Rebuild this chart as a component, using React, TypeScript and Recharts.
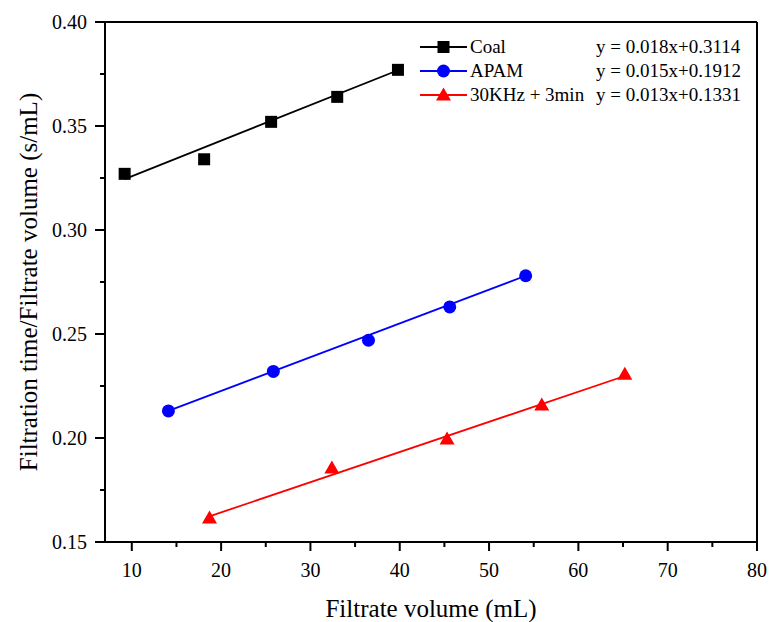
import React from 'react';
import { LineChart, Line, XAxis, YAxis, ReferenceLine, Legend, Label } from 'recharts';

// measured points
const coalX = [9.2, 18.1, 25.6, 33.0, 39.8];
const coalY = [0.327, 0.334, 0.352, 0.364, 0.377];
const apamX = [14.1, 25.85, 36.5, 45.6, 54.1];
const apamY = [0.213, 0.232, 0.247, 0.263, 0.278];
const ultraX = [18.7, 32.4, 45.3, 55.9, 65.2];
const ultraY = [0.1615, 0.1856, 0.1995, 0.2159, 0.2306];

// linear fit end points (as drawn)
const coalFitX = [9.2, 39.8];
const coalFitY = [0.3245, 0.3768];
const apamFitX = [14.1, 54.1];
const apamFitY = [0.213, 0.278];
const ultraFitX = [18.6, 65.2];
const ultraFitY = [0.1622, 0.2298];

const seriesNames = ['Coal', 'APAM', '30KHz + 3min'];
const equations = ['y = 0.018x+0.3114', 'y = 0.015x+0.1912', 'y = 0.013x+0.1331'];
const colors = ['#000000', '#0000ff', '#ff0000'];
const shapes = ['square', 'circle', 'triangle'];

const xTicks = [10, 15, 20, 25, 30, 35, 40, 45, 50, 55, 60, 65, 70, 75, 80];
const yTicks = [0.15, 0.175, 0.2, 0.225, 0.25, 0.275, 0.3, 0.325, 0.35, 0.375, 0.4];

const X_DOMAIN = [7, 80];
const Y_DOMAIN = [0.15, 0.4];
const W = 769;
const H = 622;
const MARGIN = { top: 22, right: 12, left: 0, bottom: 0 };
const Y_AXIS_W = 105;
const X_AXIS_H = 80;

const FONT = 'Liberation Serif, Times New Roman, serif';

const toRows = (xs: number[], ys: number[]) => xs.map((x, i) => ({ x, y: ys[i] }));
const isMajorX = (v: number) => v % 10 === 0;
const isMajorY = (v: number) => Math.round(v * 1000) % 50 === 0;

const Marker = ({ cx, cy, shape, color }: { cx: number; cy: number; shape: string; color: string }) => {
  if (shape === 'square') {
    return <rect x={cx - 6} y={cy - 6} width={12} height={12} fill={color} />;
  }
  if (shape === 'circle') {
    return <circle cx={cx} cy={cy} r={6.5} fill={color} />;
  }
  return <polygon points={`${cx},${cy - 7.5} ${cx - 7.5},${cy + 5.5} ${cx + 7.5},${cy + 5.5}`} fill={color} />;
};

const makeDot = (shape: string, color: string) => (props: any) => (
  <Marker key={`${shape}-${props.index}`} cx={props.cx} cy={props.cy} shape={shape} color={color} />
);

// labels only; tick marks are drawn by TickMarks
const renderXTick = (p: any) =>
  isMajorX(p.payload.value) ? (
    <text key={`xt-${p.payload.value}`} x={p.x} y={p.y + 28} textAnchor="middle" dominantBaseline="central" fontFamily={FONT} fontSize={20} fill="#000" stroke="none">
      {p.payload.value}
    </text>
  ) : (
    <g key={`xt-${p.payload.value}`} />
  );

const renderYTick = (p: any) =>
  isMajorY(p.payload.value) ? (
    <text key={`yt-${p.payload.value}`} x={p.x - 18} y={p.y} textAnchor="end" dominantBaseline="central" fontFamily={FONT} fontSize={20} fill="#000" stroke="none">
      {p.payload.value.toFixed(2)}
    </text>
  ) : (
    <g key={`yt-${p.payload.value}`} />
  );

// outward tick marks, laid over the chart
const TickMarks = () => {
  const left = MARGIN.left + Y_AXIS_W;
  const top = MARGIN.top;
  const pw = W - left - MARGIN.right;
  const ph = H - top - MARGIN.bottom - X_AXIS_H;
  const sx = (v: number) => left + ((v - X_DOMAIN[0]) / (X_DOMAIN[1] - X_DOMAIN[0])) * pw;
  const sy = (v: number) => top + ((Y_DOMAIN[1] - v) / (Y_DOMAIN[1] - Y_DOMAIN[0])) * ph;
  const bottom = top + ph;
  return (
    <svg width={W} height={H} style={{ position: 'absolute', left: 0, top: 0, pointerEvents: 'none', zIndex: 5 }}>
      {xTicks.map((v) => (
        <line key={`xm-${v}`} x1={sx(v)} y1={bottom} x2={sx(v)} y2={bottom + (isMajorX(v) ? 9 : 5)} stroke="#000" strokeWidth={2} />
      ))}
      {yTicks.map((v) => (
        <line key={`ym-${v}`} x1={left} y1={sy(v)} x2={left - (isMajorY(v) ? 10 : 5)} y2={sy(v)} stroke="#000" strokeWidth={2} />
      ))}
    </svg>
  );
};

const LegendBox = () => (
  <div style={{ fontFamily: FONT, fontSize: 19, color: '#000' }}>
    {seriesNames.map((name, i) => (
      <div key={name} style={{ display: 'flex', alignItems: 'center', height: 24, whiteSpace: 'nowrap' }}>
        <svg width={52} height={24} style={{ marginLeft: 3 }}>
          <line x1={2} y1={12} x2={49} y2={12} stroke={colors[i]} strokeWidth={1.8} />
          <Marker cx={25.5} cy={12} shape={shapes[i]} color={colors[i]} />
        </svg>
        <span style={{ display: 'inline-block', width: 126 }}>{name}</span>
        <span>{equations[i]}</span>
      </div>
    ))}
  </div>
);

export default function App() {
  const pointSets = [toRows(coalX, coalY), toRows(apamX, apamY), toRows(ultraX, ultraY)];
  const fitSets = [toRows(coalFitX, coalFitY), toRows(apamFitX, apamFitY), toRows(ultraFitX, ultraFitY)];

  return (
    <div style={{ position: 'absolute', left: 0, top: 0, width: W, height: H, background: '#fff', fontFamily: FONT }}>
      <LineChart width={W} height={H} margin={MARGIN}>
        <XAxis
          dataKey="x"
          type="number"
          domain={X_DOMAIN}
          ticks={xTicks}
          height={X_AXIS_H}
          tickSize={0}
          tickMargin={0}
          tickLine={false}
          tick={renderXTick}
          axisLine={{ stroke: '#000', strokeWidth: 2 }}
          interval={0}
        >
          <Label value="Filtrate volume (mL)" position="insideBottom" offset={5} fontFamily={FONT} fontSize={25} fill="#000" stroke="none" />
        </XAxis>
        <YAxis
          dataKey="y"
          type="number"
          domain={Y_DOMAIN}
          ticks={yTicks}
          width={Y_AXIS_W}
          tickSize={0}
          tickMargin={0}
          tickLine={false}
          tick={renderYTick}
          axisLine={{ stroke: '#000', strokeWidth: 2 }}
          interval={0}
        >
          <Label
            value="Filtration time/Filtrate volume (s/mL)"
            position="insideLeft"
            angle={-90}
            offset={28}
            textAnchor="middle"
            fontFamily={FONT}
            fontSize={25}
            fill="#000"
            stroke="none"
          />
        </YAxis>
        <ReferenceLine y={Y_DOMAIN[1]} stroke="#000" strokeWidth={2} />
        <ReferenceLine x={X_DOMAIN[1]} stroke="#000" strokeWidth={2} />
        {fitSets.map((rows, i) => (
          <Line
            key={`fit-${i}`}
            data={rows}
            dataKey="y"
            type="linear"
            stroke={colors[i]}
            strokeWidth={1.8}
            dot={false}
            activeDot={false}
            legendType="none"
            isAnimationActive={false}
          />
        ))}
        {pointSets.map((rows, i) => (
          <Line
            key={`pts-${i}`}
            data={rows}
            dataKey="y"
            name={seriesNames[i]}
            type="linear"
            stroke="none"
            dot={makeDot(shapes[i], colors[i])}
            activeDot={false}
            isAnimationActive={false}
          />
        ))}
        <Legend
          layout="vertical"
          align="center"
          verticalAlign="middle"
          content={() => <LegendBox />}
          wrapperStyle={{ left: 415, top: 35, width: 345 }}
        />
      </LineChart>
      <TickMarks />
    </div>
  );
}
